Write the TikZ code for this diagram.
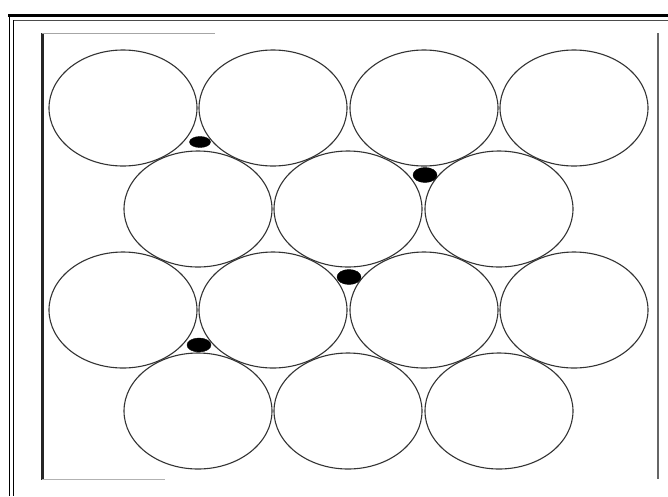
\documentclass[tikz,border=0pt]{standalone}
\usetikzlibrary{shapes.geometric}
\begin{document}
\begin{tikzpicture}[x=1pt,y=-1pt,
  ell/.style={ellipse,draw=black!80,line width=1.1pt,minimum width=148pt,minimum height=116pt,inner sep=0pt},
  pore/.style={ellipse,fill=black,draw=black,minimum width=22pt,minimum height=13pt,inner sep=0pt},
  frameline/.style={line width=1pt,black}]
\useasboundingbox (0,0) rectangle (668,496);
% outer frame
\draw[line width=3.5pt,black] (8,15.5) -- (668,15.5);
\draw[line width=1.2pt] (9.5,14) -- (9.5,496);
\draw[frameline,black!70] (13,20) -- (668,20);
\draw[frameline] (13,20) -- (13,496);
% inner frame
\draw[line width=2.5pt,black!85] (42.5,33) -- (42.5,479.5);
\draw[line width=1pt,black!35] (42,33) -- (215,33);
\draw[line width=1pt,black!30] (42,479) -- (165,479);
\draw[line width=1.2pt,black!60] (658,33) -- (658,479);
% row 1
\node[ell] (a1) at (123,108) {};
\node[ell] (a2) at (273,108) {};
\node[ell] (a3) at (424,108) {};
\node[ell] (a4) at (574,108) {};
% row 2
\node[ell] (b1) at (198,209) {};
\node[ell] (b2) at (348,209) {};
\node[ell] (b3) at (499,209) {};
% row 3
\node[ell] (c1) at (123,310) {};
\node[ell] (c2) at (273,310) {};
\node[ell] (c3) at (424,310) {};
\node[ell] (c4) at (574,310) {};
% row 4
\node[ell] (e1) at (198,411) {};
\node[ell] (e2) at (348,411) {};
\node[ell] (e3) at (499,411) {};
% pores
\node[pore,minimum width=21pt,minimum height=11pt] (p1) at (200,142) {};
\node[pore,minimum width=24pt,minimum height=15pt] (p2) at (425,175) {};
\node[pore,minimum width=24pt,minimum height=15pt] (p3) at (349,277) {};
\node[pore,minimum width=24pt,minimum height=14pt] (p4) at (199,345) {};
\end{tikzpicture}
\end{document}
